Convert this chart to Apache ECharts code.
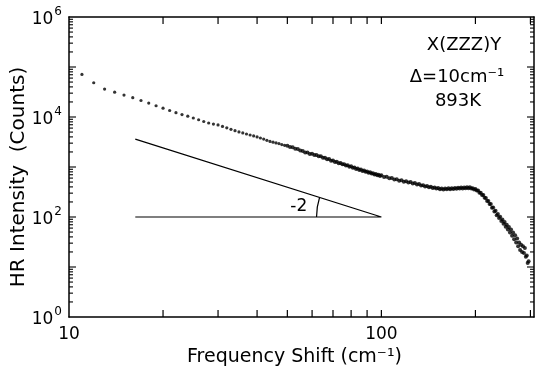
<!DOCTYPE html>
<html>
<head>
<meta charset="utf-8">
<script src="https://cdn.jsdelivr.net/npm/echarts@6/dist/echarts.min.js"></script>
<style>
  html, body { margin: 0; padding: 0; background: #fff; }
  #chart { width: 535px; height: 366px; }
</style>
</head>
<body>
<div id="chart"></div>
<script>
// frequency shift (cm-1) of each recorded point
const freqShift = [
  11, 12, 13, 14, 15, 16, 17, 18, 19, 20,
  21, 22, 23, 24, 25, 26, 27, 28, 29, 30,
  31, 32, 33, 34, 35, 36, 37, 38, 39, 40,
  41, 42, 43, 44, 45, 46, 47, 48, 49,
  50, 51, 52, 53, 54, 55, 56, 57, 58, 59,
  60, 61, 62, 63, 64, 65, 66, 67, 68, 69,
  70, 71, 72, 73, 74, 75, 76, 77, 78, 79,
  80, 81, 82, 83, 84, 85, 86, 87, 88, 89,
  90, 91, 92, 93, 94, 95, 96, 97, 98, 99, 100,
  102, 104, 106, 108, 110, 112, 114, 116, 118, 120,
  122, 124, 126, 128, 130, 132, 134, 136, 138, 140,
  142, 144, 146, 148, 150, 152, 154, 156, 158, 160,
  162, 164, 166, 168, 170, 172, 174, 176, 178, 180,
  182, 184, 186, 188, 190, 192, 194, 196, 198, 200,
  202, 204, 206, 208, 210, 212, 214, 216, 218, 220,
  222, 224, 226, 228, 230, 232, 234, 236, 238, 240,
  242, 244, 246, 248, 250, 252, 254, 256, 258, 260,
  262, 264, 266, 268, 270, 272, 274, 276, 278, 280,
  282, 284, 286, 288, 290, 292, 294, 296
];

// HR intensity (counts)
const intensity = [
  71000, 48400, 36200, 31400, 27500, 24300, 21400, 19000, 16800, 15000,
  13500, 12200, 11200, 10400, 9550, 8810, 8130, 7590, 7230, 6930,
  6470, 6070, 5680, 5320, 5040, 4800, 4570, 4370, 4180, 3990,
  3800, 3610, 3420, 3240, 3130, 3030, 2940, 2810, 2710,
  2650, 2500, 2480, 2330, 2280, 2130, 2100, 1960, 1940, 1830,
  1840, 1730, 1740, 1640, 1640, 1530, 1530, 1430, 1440, 1340,
  1350, 1260, 1270, 1190, 1200, 1130, 1140, 1070, 1080, 1010,
  1030, 965, 975, 915, 935, 875, 890, 835, 850, 800,
  815, 768, 782, 738, 752, 708, 726, 685, 702, 662, 680,
  632, 640, 595, 604, 562, 571, 532, 543, 508, 520,
  487, 499, 470, 478, 447, 456, 428, 434, 407, 415,
  393, 402, 380, 391, 370, 379, 359, 372, 356, 371,
  357, 374, 360, 377, 364, 381, 367, 385, 370, 387,
  372, 390, 375, 392, 377, 392, 370, 378, 355, 363,
  340, 338, 306, 306, 276, 276, 243, 241, 209, 210,
  181, 182, 153, 155, 129, 133, 109, 115, 95, 101,
  83, 89, 73, 79, 64, 70, 56, 63, 49, 56,
  42, 49, 36, 43, 31, 37, 26, 31, 22, 28,
  20, 26, 19, 24, 16, 17, 12, 13
];

const xTicks = [20, 30, 40, 50, 60, 70, 80, 90, 100, 200, 300];
const xLabels = [10, 100];
const yLabels = [1, 100, 10000, 1000000];
const yMajorTicks = [10, 100, 1000, 10000, 100000];
const yMinorTicks = [
  2, 3, 4, 5, 6, 7, 8, 9,
  20, 30, 40, 50, 60, 70, 80, 90,
  200, 300, 400, 500, 600, 700, 800, 900,
  2000, 3000, 4000, 5000, 6000, 7000, 8000, 9000,
  20000, 30000, 40000, 50000, 60000, 70000, 80000, 90000,
  200000, 300000, 400000, 500000, 600000, 700000, 800000, 900000
];

// slope -2 guide: upper-left end, vertex, lower-left end
const slopeTriangle = [[16.3, 3600], [100, 100], [16.3, 100]];
const arcThroughX = 62;
const slopeLabel = '-2';
const slopeLabelAt = [54.4, 162];

const notes = ['X(ZZZ)Y', 'Δ=10cm⁻¹', '893K'];

const FONT = "'DejaVu Sans', sans-serif";
const black = '#000';

const chart = echarts.init(document.getElementById('chart'));

const points = freqShift.map((f, i) => [f, intensity[i]]);

function xAxisBase(pos) {
  return {
    type: 'log',
    logBase: 10,
    min: 10,
    max: 308,
    position: pos,
    axisLine: { show: true, onZero: false, lineStyle: { color: black, width: 1.5 } },
    axisTick: { show: false },
    splitLine: { show: false },
    minorTick: { show: false },
    axisLabel: { show: false }
  };
}

function yAxisBase(pos) {
  return {
    type: 'log',
    logBase: 10,
    min: 1,
    max: 1000000,
    position: pos,
    axisLine: { show: true, onZero: false, lineStyle: { color: black, width: 1.5 } },
    axisTick: { show: false },
    splitLine: { show: false },
    minorTick: { show: false },
    axisLabel: { show: false }
  };
}

const bottomAxis = xAxisBase('bottom');
bottomAxis.name = 'Frequency Shift (cm⁻¹)';
bottomAxis.nameLocation = 'middle';
bottomAxis.nameGap = 31;
bottomAxis.nameTextStyle = { fontFamily: FONT, fontSize: 19, color: black, padding: [0, 14, 0, 0] };
bottomAxis.axisLabel = {
  show: true,
  customValues: xLabels,
  margin: 9,
  fontFamily: FONT,
  fontSize: 17,
  color: black,
  formatter: v => String(Math.round(v))
};

const leftAxis = yAxisBase('left');
leftAxis.name = 'HR Intensity  (Counts)';
leftAxis.nameLocation = 'middle';
leftAxis.nameGap = 40;
leftAxis.nameMoveOverlap = false;
leftAxis.nameTextStyle = { fontFamily: FONT, fontSize: 20, color: black, padding: [0, 20, 0, 0] };
leftAxis.axisLabel = {
  show: true,
  customValues: yLabels,
  margin: 7,
  formatter: v => '{b|10}{s|' + Math.round(Math.log10(v)) + '}',
  rich: {
    b: { fontFamily: FONT, fontSize: 17, color: black, lineHeight: 22, verticalAlign: 'bottom' },
    s: { fontFamily: FONT, fontSize: 12, color: black, lineHeight: 12, verticalAlign: 'top', padding: [0, 0, 0, 1] }
  }
};

// inward ticks drawn on both sides of the frame, placed by the axis scales
function xTickSeries(values, len) {
  return {
    type: 'custom',
    data: values.map(v => [v, 1]),
    silent: true,
    z: 4,
    renderItem: function (params, api) {
      const cs = params.coordSys;
      const x = api.coord([api.value(0), 1])[0];
      const bottom = cs.y + cs.height;
      return {
        type: 'group',
        children: [
          { type: 'line', shape: { x1: x, y1: bottom, x2: x, y2: bottom - len }, style: { stroke: black, lineWidth: 1.2 } },
          { type: 'line', shape: { x1: x, y1: cs.y, x2: x, y2: cs.y + len }, style: { stroke: black, lineWidth: 1.2 } }
        ]
      };
    }
  };
}

function yTickSeries(values, len) {
  return {
    type: 'custom',
    data: values.map(v => [10, v]),
    silent: true,
    z: 4,
    renderItem: function (params, api) {
      const cs = params.coordSys;
      const y = api.coord([10, api.value(1)])[1];
      const right = cs.x + cs.width;
      return {
        type: 'group',
        children: [
          { type: 'line', shape: { x1: cs.x, y1: y, x2: cs.x + len, y2: y }, style: { stroke: black, lineWidth: 1.1 } },
          { type: 'line', shape: { x1: right, y1: y, x2: right - len, y2: y }, style: { stroke: black, lineWidth: 1.1 } }
        ]
      };
    }
  };
}

const option = {
  animation: false,
  backgroundColor: '#fff',
  grid: { left: 69, right: 1, top: 17, bottom: 49, outerBoundsMode: 'none', containLabel: false },
  xAxis: [bottomAxis, xAxisBase('top')],
  yAxis: [leftAxis, yAxisBase('right')],
  graphic: [
    { type: 'text', x: 464, y: 45, style: { text: notes[0], font: '18px ' + FONT, fill: black, align: 'center', verticalAlign: 'middle' } },
    { type: 'text', x: 457, y: 77, style: { text: notes[1], font: '18px ' + FONT, fill: black, align: 'center', verticalAlign: 'middle' } },
    { type: 'text', x: 458, y: 101, style: { text: notes[2], font: '18px ' + FONT, fill: black, align: 'center', verticalAlign: 'middle' } }
  ],
  series: [
    {
      type: 'scatter',
      data: points,
      symbol: 'circle',
      symbolSize: d => (d[0] >= 50 ? 4 : 3.2),
      itemStyle: { color: black },
      z: 3
    },
    {
      type: 'line',
      data: slopeTriangle,
      symbol: 'none',
      lineStyle: { color: black, width: 1.2 },
      z: 2
    },
    {
      type: 'custom',
      data: [slopeTriangle[1]],
      z: 2,
      renderItem: function (params, api) {
        const v = api.coord(slopeTriangle[1]);
        const top = api.coord(slopeTriangle[0]);
        const p = api.coord([arcThroughX, slopeTriangle[1][1]]);
        const r = v[0] - p[0];
        const a = Math.atan2(top[1] - v[1], top[0] - v[0]) + Math.PI * 2;
        const lab = api.coord(slopeLabelAt);
        return {
          type: 'group',
          children: [
            {
              type: 'arc',
              shape: { cx: v[0], cy: v[1], r: r, startAngle: Math.PI, endAngle: a, clockwise: true },
              style: { stroke: black, fill: null, lineWidth: 1.2 }
            },
            {
              type: 'text',
              x: lab[0],
              y: lab[1],
              style: { text: slopeLabel, font: '17px ' + FONT, fill: black, align: 'center', verticalAlign: 'middle' }
            }
          ]
        };
      }
    },
    xTickSeries(xTicks, 7),
    yTickSeries(yMinorTicks, 4),
    yTickSeries(yMajorTicks, 7)
  ]
};

chart.setOption(option);
</script>
</body>
</html>
